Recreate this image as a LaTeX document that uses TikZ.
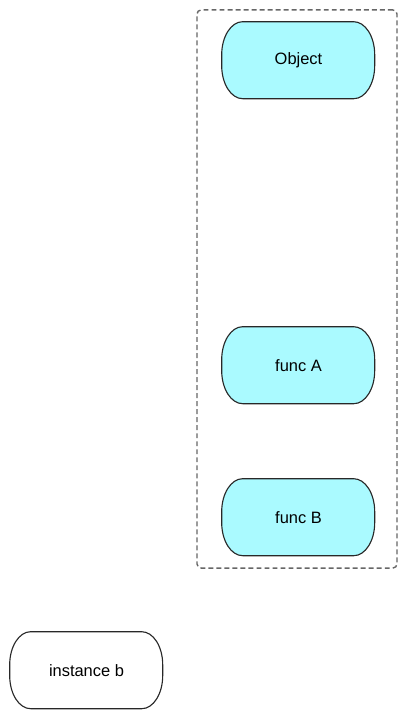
\documentclass[tikz,border=0pt]{standalone}
\usepackage{fontspec}
\setmainfont{Liberation Sans}
\usetikzlibrary{backgrounds}
\definecolor{termfill}{RGB}{170,250,255}
\definecolor{groupline}{RGB}{102,102,102}
\definecolor{termline}{RGB}{40,40,40}
\begin{document}
\begin{tikzpicture}[x=0.025cm, y=0.025cm,
    term/.style={minimum width=3.825cm, minimum height=1.925cm, inner sep=0pt,
        font=\fontsize{11.7}{14}\selectfont},
    termedge/.style={draw=termline, line width=0.8pt},
    group/.style={draw=groupline, line width=1pt, dash pattern=on 3.5pt off 2.2pt,
        rounded corners=3pt, minimum width=5cm, minimum height=13.95cm, inner sep=0pt}]
    \useasboundingbox (0,0) rectangle (399,710);

    \node[group] (objgroup) at (297,421) {};

    \node[term] (obj) at (298.5,649.5) {Object};
    \node[term] (funcA) at (298.5,344.5) {func A};
    \node[term] (funcB) at (298.5,192.5) {func B};
    \node[term] (instb) at (86.5,39.5) {instance b};

    \begin{scope}[on background layer]
    \foreach \n/\c in {obj/termfill, funcA/termfill, funcB/termfill, instb/white}
        \filldraw[termedge, fill=\c] (\n.north west) ++(21,0) -- ++(111,0)
            arc[start angle=90, end angle=0, x radius=21, y radius=33] -- ++(0,-11)
            arc[start angle=0, end angle=-90, x radius=21, y radius=33] -- ++(-111,0)
            arc[start angle=270, end angle=180, x radius=21, y radius=33] -- ++(0,11)
            arc[start angle=180, end angle=90, x radius=21, y radius=33] -- cycle;
    \end{scope}
\end{tikzpicture}
\end{document}
